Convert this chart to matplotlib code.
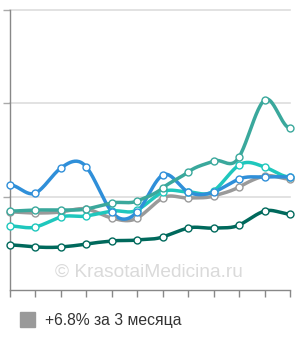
import numpy as np
import matplotlib
matplotlib.use("Agg")
import matplotlib.pyplot as plt

months = list(range(12))
blue = [11.25, 10.39, 13.07, 13.18, 8.36, 8.36, 12.32, 10.50, 10.50, 11.89, 12.11, 12.11]
dark_green = [4.82, 4.61, 4.61, 4.93, 5.25, 5.36, 5.68, 6.64, 6.64, 6.96, 8.46, 8.14]
teal = [8.46, 8.57, 8.57, 8.68, 9.32, 9.54, 10.93, 12.64, 13.82, 14.25, 20.36, 17.36]
cyan = [6.86, 6.75, 7.82, 7.93, 8.46, 8.57, 10.50, 10.50, 10.61, 13.39, 13.18, 12.11]
grey = [8.36, 8.25, 8.36, 8.68, 7.71, 7.71, 9.86, 9.86, 10.07, 11.04, 12.21, 11.89]
yticks = [10, 20, 30]
legend_label = "+6.8% за 3 месяца"
watermark = "© KrasotaiMedicina.ru"

series = [
    (dark_green, "#00695c"),
    (grey, "#9a9a9a"),
    (cyan, "#1fc7bd"),
    (blue, "#2f8fd9"),
    (teal, "#3aa89c"),
]


def smooth(x, y, n=24, k=1.4):
    x = np.asarray(x, float)
    y = np.asarray(y, float)
    xs, ys = [], []
    m = len(x)
    t = np.zeros(m)
    for i in range(1, m - 1):
        t[i] = k * (y[i + 1] - y[i - 1]) / (x[i + 1] - x[i - 1])
    for i in range(m - 1):
        h = x[i + 1] - x[i]
        s = np.linspace(0, 1, n, endpoint=False)
        h00 = 2 * s**3 - 3 * s**2 + 1
        h10 = s**3 - 2 * s**2 + s
        h01 = -2 * s**3 + 3 * s**2
        h11 = s**3 - s**2
        xs.extend(x[i] + s * h)
        ys.extend(h00 * y[i] + h10 * h * t[i] + h01 * y[i + 1] + h11 * h * t[i + 1])
    xs.append(x[-1])
    ys.append(y[-1])
    return np.array(xs), np.array(ys)


fig = plt.figure(figsize=(3.0, 3.4), dpi=100)
ax = fig.add_axes([10 / 300, 50 / 340, 280 / 300, 280 / 340])
ax.set_xlim(0, 11)
ax.set_ylim(0, 30)

for yv in yticks:
    ax.axhline(yv, color="#dddddd", lw=1.2, zorder=0, clip_on=False)

ax.text(5.45, 1.9, watermark, ha="center", va="center", fontsize=13.8,
        color="#dadada", family="Liberation Sans", zorder=1)

for vals, col in series:
    sx, sy = smooth(months, vals)
    ax.plot(sx, sy, color=col, lw=2.5, solid_capstyle="round", zorder=3, clip_on=False)
    ax.plot(months, vals, ls="none", marker="o", ms=5.0, mfc="white", mec=col,
            mew=1.0, zorder=4, clip_on=False)

for side in ["top", "right"]:
    ax.spines[side].set_visible(False)
ax.spines["left"].set_color("#888888")
ax.spines["bottom"].set_color("#888888")
ax.spines["left"].set_linewidth(1.0)
ax.spines["bottom"].set_linewidth(1.0)
ax.set_xticks(months)
ax.set_yticks(yticks)
ax.tick_params(axis="x", length=5, width=1, color="#888888", labelbottom=False)
ax.tick_params(axis="y", length=5, width=1, color="#aaaaaa", labelleft=False)

fig.patches.append(plt.Rectangle((20 / 300, 1 - 327 / 340), 15 / 300, 15 / 340,
                                 transform=fig.transFigure, color="#9a9a9a", figure=fig))
fig.text(45 / 300, 1 - 320 / 340, legend_label, ha="left", va="center",
         fontsize=11.3, color="#333333", family="Liberation Sans")

fig.savefig("out.png", dpi=100)
